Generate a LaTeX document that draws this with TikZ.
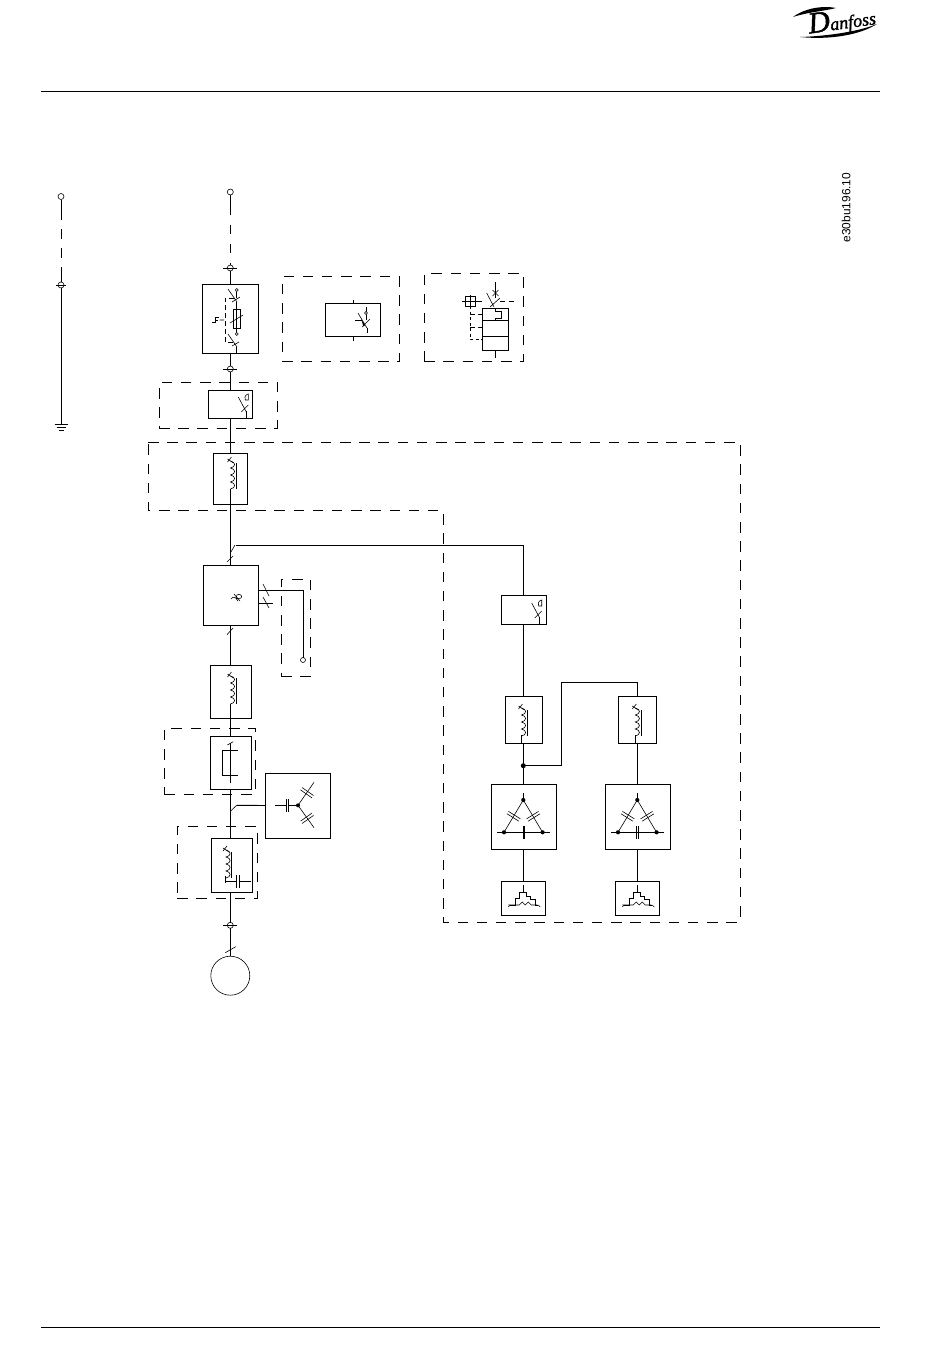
\documentclass[tikz,border=0pt]{standalone}
\usepackage{fontspec}
\setsansfont{Liberation Sans}
\newfontfamily\logofont[ItalicFeatures={FakeBold=1.5}]{Liberation Serif}
\tikzset{
  unit/.style={draw,rectangle,inner sep=0pt,outer sep=0pt},
  group/.style={draw,rectangle,inner sep=0pt,outer sep=0pt,dash pattern=on 10.5pt off 8.7pt},
  term/.style={draw,circle,inner sep=0pt,outer sep=0pt,minimum size=6pt,line width=0.6pt},
  tiny/.style={line width=0.6pt},
  feed/.style={dash pattern=on 20pt off 9.5pt on 9.5pt off 9.5pt on 9.5pt off 9.5pt on 20pt}
}
% coil with core, top at (#1,#2)
\newcommand{\chokesym}[3]{
  \begin{scope}[shift={(#1,#2)}]
    \draw[tiny] (-3,-1) -- (3,3) (-3,2) -- (1,-3);
    \draw[tiny] (0,1) .. controls (5.5,2) and (5.5,7) .. (0,8)
      .. controls (5.5,9) and (5.5,14) .. (0,15)
      .. controls (5.5,16) and (5.5,21) .. (0,22)
      .. controls (5.5,23) and (5.5,28) .. (0,29);
    \draw (#3,3) -- (#3,29);
  \end{scope}
}
% breaker contact with the small release mark
\newcommand{\brksym}[2]{
  \begin{scope}[shift={(#1,#2)}]
    \draw[tiny] (-8,-14) -- (0,1) (-5,1) -- (2,-6);
    \draw[tiny] (-1,-11) .. controls (-3,-16) and (2,-17) .. (2,-17) -- (2,-11) -- cycle;
    \draw (0,0) -- (0,7);
  \end{scope}
}
% two crossing plates
\newcommand{\dcap}[3]{
  \begin{scope}[shift={(#1,#2)},rotate=#3]
    \draw[tiny] (-7,-1.4) -- (7,-1.4) (-7,1.4) -- (7,1.4);
  \end{scope}
}
% triangle of plates
\newcommand{\trisym}[2]{
  \begin{scope}[shift={(#1,#2)}]
    \draw (0,-7) -- (0,0);
    \draw[tiny] (-19.3,32.3) -- (0,0) -- (19.3,32.3);
    \draw (-26,32.3) -- (26.7,32.3);
    \fill (0,0) circle (2.1) (-19.3,32.3) circle (2.1) (19.3,32.3) circle (2.1);
    \dcap{-9.6}{16.3}{-32}
    \dcap{10}{16.3}{32}
  \end{scope}
}
% motor winding
\newcommand{\windsym}[2]{
  \begin{scope}[shift={(#1,#2)}]
    \draw[tiny] (0,0) -- (0,7);
    \draw (-13,20) -- (-8,20) -- (-8,13) -- (-4,13) -- (-4,7) -- (3,7) -- (3,11) -- (7,11) -- (7,14) -- (12,14) -- (12,20) -- (15,20);
    \draw[tiny] (-15,20) -- (-4,20) -- (-1,17) -- (2,20) -- (5,17) -- (8,20) -- (14,20);
    \draw[tiny] (-15,22) -- (-13,20) (15,20) -- (17,22);
  \end{scope}
}
\begin{document}
\begin{tikzpicture}[x=1pt,y=-1pt,line width=0.92pt]
  \useasboundingbox (0,0) rectangle (950,1369);
  % page furniture
  \coordinate (headl) at (41,91);
  \coordinate (headr) at (880,91);
  \coordinate (footl) at (41,1327);
  \coordinate (footr) at (880,1327);
  \draw (headl) -- (headr);
  \draw (footl) -- (footr);
  \node[rotate=8,inner sep=0pt,font=\logofont\itshape] (logo) at (842,21) {\fontsize{30}{30}\selectfont D\fontsize{18}{18}\selectfont anfoss};
  \fill (800,37) .. controls (830,36) and (860,31) .. (877,24) .. controls (860,35) and (830,40) .. (800,37) -- cycle;
  \fill (793,17) .. controls (803,9) and (822,5) .. (836,8) .. controls (825,11) and (808,12) .. (793,17) -- cycle;
  \node[rotate=90,inner sep=0pt,font=\sffamily\fontsize{11.9}{12}\selectfont] (code) at (846,207.5) {e30bu196.10};
  % earth line
  \node[term] (lefttop) at (61,196.5) {};
  \node[term] (leftmid) at (61,285) {};
  \coordinate (gnd) at (61,424);
  \draw[feed] (lefttop) -- (leftmid);
  \draw (leftmid) -- (gnd);
  \draw ([xshift=-2pt]leftmid.west) -- ([xshift=2pt]leftmid.east);
  \draw (54.5,424) -- (67.5,424) (56.5,427) -- (65.5,427) (58.5,430) -- (63.5,430);
  % dashed groups
  \node[group,minimum width=118,minimum height=46] (brkgroup) at (218,405) {};
  \node[group,minimum width=117,minimum height=85] (sensgroup) at (340.7,319) {};
  \node[group,minimum width=99,minimum height=88.5] (ctrlgroup) at (473.7,317.3) {};
  \node[group,minimum width=29.5,minimum height=97] (outgroup) at (295.8,627.5) {};
  \node[group,minimum width=91,minimum height=66] (dcgroup) at (209.8,761.2) {};
  \node[group,minimum width=80,minimum height=72] (filtgroup) at (217.2,862.3) {};
  \draw[dash pattern=on 10.5pt off 8.7pt] (148,442) -- (740,442) -- (740,922) -- (443,922) -- (443,510) -- (148,510) -- cycle;
  % main run
  \node[term] (top) at (230.3,192) {};
  \node[term] (tfuse) at (230.3,268) {};
  \node[term] (tout) at (230.3,369) {};
  \node[term] (tmot) at (230.3,925.3) {};
  \node[unit,minimum width=56,minimum height=69] (fuse) at (230,318.5) {};
  \node[unit,minimum width=44,minimum height=28] (brk) at (230.5,404) {};
  \node[unit,minimum width=34.5,minimum height=51] (choke) at (230.3,479) {};
  \node[unit,minimum width=55,minimum height=60] (conv) at (231,595.5) {};
  \node[unit,minimum width=41,minimum height=53] (dchoke) at (231,691.5) {};
  \node[unit,minimum width=41,minimum height=53.3] (dclink) at (230.8,762.7) {};
  \node[unit,minimum width=65.4,minimum height=65] (cbox) at (298,805.5) {};
  \node[unit,minimum width=41,minimum height=54.3] (filt) at (231.8,865.2) {};
  \node[draw,circle,inner sep=0pt,minimum size=39,line width=0.6pt] (motor) at (230.3,975.7) {};
  \draw[feed] (top) -- (tfuse);
  \draw (tfuse) -- (top |- fuse.north);
  \draw (top |- fuse.south) -- (tout);
  \draw (tout) -- (top |- brk.north);
  \draw (top |- brk.south) -- (top |- choke.north);
  \draw (top |- choke.south) -- (top |- conv.north);
  \draw (top |- conv.south) -- (top |- dchoke.north);
  \draw (top |- dchoke.south) -- (top |- dclink.north);
  \draw (top |- dclink.south) -- (top |- filt.north);
  \draw (top |- filt.south) -- (tmot);
  \draw (tmot) -- (motor);
  \foreach \t in {tfuse,tout,tmot}
    \draw ([xshift=-4pt]\t.west) -- ([xshift=4pt]\t.east);
  \draw[tiny] (225.3,952.7) -- (235.7,946.7);
  \draw[tiny] (227,562) -- (233,556);
  \draw[tiny] (227,634.7) -- (233,628);
  % fuse box
  \draw[tiny] (228,289) -- (237,302) (232,302) -- (240,297);
  \draw (236.7,290) -- (236.7,298);
  \draw[tiny,fill=white] (236.7,290) circle (1.5);
  \draw (233.3,309) rectangle (240,328);
  \draw (236.7,302) -- (236.7,333);
  \draw[tiny] (230,323) -- (243,315);
  \draw[tiny,fill=white] (236.7,334) circle (1.5);
  \draw[dash pattern=on 5pt off 3pt] (234,298) -- (225,298) -- (225,342) -- (234,342);
  \draw[tiny] (228,334) -- (237,347) (232,346) -- (239,342);
  \draw (236.7,347) -- (236.7,353);
  \draw (212,322) -- (215,322) -- (215,317) -- (219,317) (215,320) -- (218,320);
  \draw[tiny] (219.5,320) .. controls (221,318.5) and (222,321.5) .. (224,320);
  % breakers
  \brksym{246.3}{411}
  \brksym{539.7}{617}
  % sensor box
  \node[unit,minimum width=54.5,minimum height=32.5] (sens) at (353.2,320.2) {};
  \draw (353,300) -- (sens.north -| 353,300);
  \draw (sens.south -| 353,300) -- (353,341);
  \draw[tiny] (358,313) -- (367,328) (362,327) -- (370,319);
  \draw (366,307) -- (366,320) (367,328) -- (367,333);
  \draw[tiny,fill=white] (366,313) circle (1.5);
  \draw (355,320) -- (362,320);
  \fill (361,319) -- (365,325) -- (363.5,326.5) -- cycle;
  % control box
  \node[unit,minimum width=26.4,minimum height=42] (ctrl) at (495.5,329.3) {};
  \draw (ctrl.west |- 0,320.7) -- (ctrl.east |- 0,320.7);
  \draw (ctrl.west |- 0,336.3) -- (ctrl.east |- 0,336.3);
  \draw (495.7,350.3) -- (495.7,358);
  \draw (495.5,282) -- (495.5,298);
  \draw[tiny] (492.5,290) -- (498.5,296) (492.5,296) -- (498.5,290);
  \draw[tiny] (486.7,293) -- (494,307) (490,307) -- (500,298);
  \draw[dash pattern=on 5pt off 4pt] (500,301) -- (515,301);
  \draw (465.7,296.7) rectangle (475,306);
  \draw (462.3,301.3) -- (482.3,301.3) (470.3,295) -- (470.3,308);
  \draw[dash pattern=on 3pt off 2.5pt] (470.3,306) -- (470.3,339) -- (482.3,339);
  \draw[dash pattern=on 5pt off 3pt] (470.3,314.3) -- (482.3,314.3) (470.3,327.3) -- (482.3,327.3);
  \draw (495.3,308.3) -- (495.3,311) -- (501.7,311) -- (501.7,318) -- (495.3,318) -- (495.3,320.7);
  % chokes
  \chokesym{230.5}{460}{6}
  \chokesym{230.5}{675}{6}
  \draw (230.3,489) -- (230.3,504);
  \draw (230.3,704) -- (230.3,718);
  % converter
  \draw[tiny] (231,599) .. controls (233,594) and (237,601) .. (241,598) .. controls (243,596) and (240,593) .. (237,595) .. controls (235,597) and (236,600) .. (238,601);
  \draw[tiny] (234,594) -- (240,601);
  \draw[tiny] (235,545) -- (230.3,553);
  \node[unit,minimum width=45,minimum height=29] (rbrk) at (523.8,609.5) {};
  \coordinate (wirea) at (236,545);
  \coordinate (wireb) at (523.3,545);
  \draw (wirea) -- (wireb) -- (rbrk.north -| wireb);
  \draw[tiny] (263,584) -- (269,596) (263,597) -- (269,608);
  \node[term,minimum size=5pt] (outend) at (303,660) {};
  \coordinate (outa) at (258.5,590.5);
  \coordinate (outb) at (258.5,603.5);
  \draw (outa) -- (outa -| outend) -- (outend);
  \draw (outb) -- (273,603.5);
  % dc link
  \draw (238,750.7) -- (222.3,750.7) -- (222.3,775) -- (238,775);
  \draw (230.3,743) -- (230.3,783);
  \draw[tiny] (227.3,745) -- (233.3,741.7);
  \draw[tiny] (230.3,811.3) -- (236.7,805.3);
  \draw (236.7,805.3) -- (cbox.west);
  % capacitor box
  \draw (275,805.3) -- (286,805.3) (288.3,805.3) -- (298,805.3);
  \draw (286,799) -- (286,811.7) (288.3,799) -- (288.3,811.7);
  \fill (298,805.3) circle (2);
  \draw[tiny] (298,805.3) -- (314,782.3) (298,805.3) -- (314,827.7);
  \dcap{307}{792.7}{-35}
  \dcap{307}{818.3}{35}
  % filter
  \chokesym{226}{849}{5.7}
  \draw (225.7,876) -- (225.7,883.3) (225.7,881.3) -- (236.7,881.3) (239.3,881.3) -- (251,881.3);
  \draw (236.7,875) -- (236.7,888) (239.3,875) -- (239.3,888);
  % right branch
  \node[unit,minimum width=37.3,minimum height=47] (rchoke) at (523.7,719.8) {};
  \node[unit,minimum width=38,minimum height=47] (lchoke) at (637.3,719.8) {};
  \node[unit,minimum width=65,minimum height=65.3] (tria) at (523.8,816.7) {};
  \node[unit,minimum width=65,minimum height=65.3] (trib) at (637.8,816.7) {};
  \node[unit,minimum width=44,minimum height=34.3] (winda) at (523.3,898.2) {};
  \node[unit,minimum width=44,minimum height=34.3] (windb) at (637.3,898.2) {};
  \fill (523.3,765.7) circle (2.5) coordinate (tap);
  \coordinate (tapup) at (561.7,682.3);
  \coordinate (wireb2) at (523.3,624);
  \draw (wireb2) -- (rchoke.north -| wireb2);
  \draw (rchoke.south -| wireb2) -- (tria.north -| wireb2);
  \draw (tap) -- (tap -| tapup) -- (tapup) -- (tapup -| lchoke) -- (lchoke.north);
  \draw (lchoke.south) -- (trib.north -| lchoke);
  \draw (tria.south -| wireb2) -- (winda.north);
  \draw (trib.south -| lchoke) -- (windb.north);
  \chokesym{521.5}{707}{5.8}
  \chokesym{635.3}{707}{6.4}
  \draw (521.7,735) -- (521.7,743);
  \draw (635.3,735) -- (635.3,743);
  \trisym{523.3}{800}
  \trisym{637.3}{800}
  \draw[line width=2pt] (524,826) -- (524,839);
  \draw (636,826) -- (636,839) (638.7,826) -- (638.7,839);
  \windsym{523.3}{885}
  \windsym{637.3}{885}
\end{tikzpicture}
\end{document}
